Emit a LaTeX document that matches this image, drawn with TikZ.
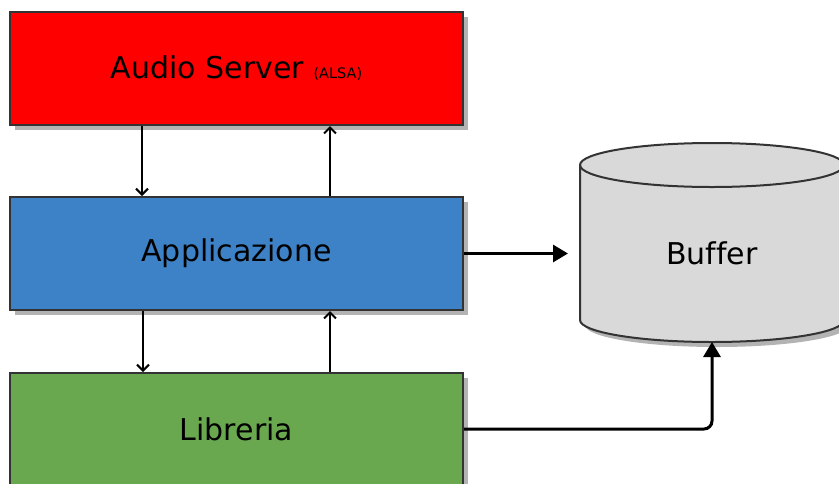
\documentclass[tikz,border=0pt]{standalone}
\usepackage{fontspec}
\setmainfont[Ligatures={NoCommon}]{DejaVu Sans}
\usetikzlibrary{arrows.meta,shadows}
\definecolor{boxline}{HTML}{333333}
\definecolor{shadowgray}{HTML}{B3B3B3}
\definecolor{redfill}{HTML}{FF0000}
\definecolor{bluefill}{HTML}{3D82C6}
\definecolor{greenfill}{HTML}{6AA84F}
\definecolor{cylfill}{HTML}{D9D9D9}
\tikzset{
  layerbox/.style={rectangle, draw=boxline, line width=2pt, minimum width=453pt, minimum height=113pt, inner sep=0pt,
    font=\fontsize{30}{35}\selectfont,
    drop shadow={shadow xshift=5pt, shadow yshift=-5pt, fill=shadowgray, opacity=1}},
  thinarrow/.style={line width=2pt, -{Straight Barb[length=6pt,width=12pt,line width=2pt]}},
  thickarrow/.style={line width=3pt, -{Triangle[length=15pt,width=17pt]}}
}
\begin{document}
\begin{tikzpicture}[x=1pt,y=1pt]
\useasboundingbox (0,0) rectangle (839,-483);
\clip (0,0) rectangle (839,-483);
% boxes
\node[layerbox, fill=redfill] (audio) at (236.5,-68.5) {Audio Server {\fontsize{14.5}{17}\selectfont (ALSA)}};
\node[layerbox, fill=bluefill] (app) at (236.5,-253.5) {Applicazione};
\node[layerbox, fill=greenfill] (lib) at (236.5,-429.5) {Libreria};
% cylinder
\fill[shadowgray] (585,-170) -- (585,-325) arc (180:360:132 and 22) -- (849,-170) arc (0:180:132 and 22) -- cycle;
\filldraw[fill=cylfill, draw=boxline, line width=2pt]
  (580,-165) -- (580,-320) arc (180:360:132 and 22) -- (844,-165) arc (0:180:132 and 22) -- cycle;
\draw[boxline, line width=2pt] (580,-165) arc (180:360:132 and 22);
\node[rectangle, minimum width=264pt, minimum height=177pt, inner sep=0pt, font=\fontsize{30}{35}\selectfont] (buf) at (712,-253.5) {Buffer};
\coordinate (bufbot) at (712,-342);
\coordinate (bufleft) at (568,-253.5);
% thin arrows
\draw[thinarrow] (audio.south -| 142,0) -- (app.north -| 142,0);
\draw[thinarrow] (app.north -| 330,0) -- (audio.south -| 330,0);
\draw[thinarrow] (app.south -| 143,0) -- (lib.north -| 143,0);
\draw[thinarrow] (lib.north -| 330,0) -- (app.south -| 330,0);
% thick arrows
\draw[thickarrow] (app.east) -- (bufleft);
\draw[thickarrow, rounded corners=8pt] (lib.east |- 0,-429) -- (712,-429) -- (bufbot);
\end{tikzpicture}
\end{document}
